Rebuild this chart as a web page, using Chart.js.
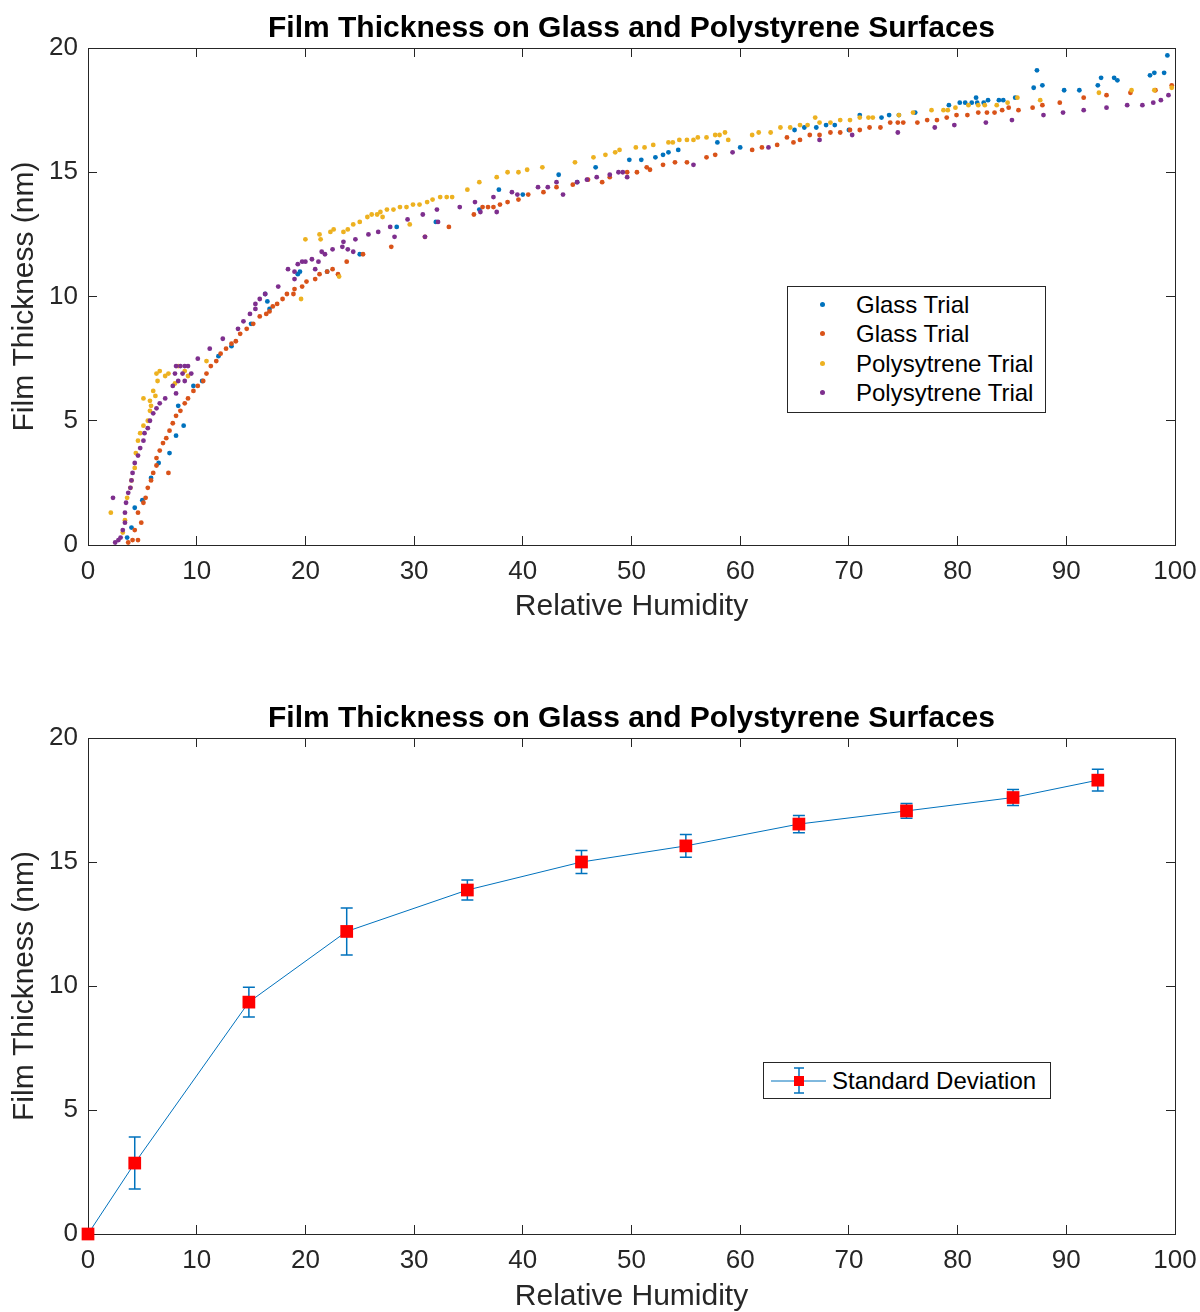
<!DOCTYPE html>
<html>
<head>
<meta charset="utf-8">
<title>Film Thickness on Glass and Polystyrene Surfaces</title>
<script src="https://cdn.jsdelivr.net/npm/chart.js@4.4.0/dist/chart.umd.min.js"></script>
<style>
  html, body { margin: 0; padding: 0; background: #fff; }
  body {
    position: relative; width: 1200px; height: 1312px; overflow: hidden;
    font-family: "Liberation Sans", Arial, Helvetica, sans-serif;
  }
  canvas { position: absolute; left: 0; }
  #topChart { top: 0; }
  #bottomChart { top: 650px; }
  .legend {
    position: absolute; background: #fff; border: 1px solid #262626;
    box-sizing: border-box; font-size: 24px; color: #000;
  }
  .legend .row { position: absolute; left: 0; right: 0; height: 30px; line-height: 30px; }
  .legend .dot { position: absolute; left: 32px; top: 12px; width: 5px; height: 5px; border-radius: 50%; }
  .legend .label { position: absolute; left: 68px; top: 0; white-space: nowrap; }
  .legend svg { position: absolute; left: 0; top: 0; }
</style>
</head>
<body>
<canvas id="topChart" width="1200" height="650"></canvas>
<canvas id="bottomChart" width="1200" height="662"></canvas>
<div class="legend" id="topLegend" style="left:787px; top:286px; width:259px; height:127px;"></div>
<div class="legend" id="bottomLegend" style="left:763px; top:1062px; width:288px; height:37px;"></div>

<script>
// ---- data ----
const chartTitle = 'Film Thickness on Glass and Polystyrene Surfaces';
const xLabel = 'Relative Humidity';
const yLabel = 'Film Thickness (nm)';
const xTicks = { min: 0, max: 100, step: 10 };
const yTicks = { min: 0, max: 20, step: 5 };

const seriesNames = ['Glass Trial', 'Glass Trial', 'Polysytrene Trial', 'Polysytrene Trial'];
const seriesColors = ['#0072BD', '#D95319', '#EDB120', '#7E2F8E'];

// [relative humidity, thickness]
const glassTrial1 = [
  [3.6,0.3],[4.0,0.7],[4.3,1.5],[5.0,1.8],[5.8,2.7],[6.5,3.3],[7.5,3.7],[8.1,4.4],[8.8,4.8],[8.3,5.6],
  [9.7,6.4],[10.5,6.6],[12.0,7.6],[13.2,8.0],[15.0,8.9],[16.3,10.1],[16.5,9.8],[16.7,9.5],[19.3,10.9],
  [19.5,11.0],[22.0,11.0],[25.0,11.7],[28.4,12.8],[32.0,13.0],[36.0,13.5],[37.8,14.3],[40.0,14.1],
  [43.3,14.9],[45.0,14.6],[46.7,15.2],[49.8,15.5],[50.9,15.5],[52.2,15.6],[52.9,15.7],[53.4,15.8],
  [54.3,15.9],[57.9,16.2],[60.0,16.0],[65.0,16.7],[65.9,16.8],[67.0,16.8],[67.9,16.9],[68.7,16.9],
  [70.0,16.7],[71.0,17.3],[73.0,17.2],[73.7,17.3],[74.6,17.3],[76.1,17.4],[79.2,17.7],[80.2,17.8],
  [80.7,17.8],[81.3,17.8],[81.7,18.0],[81.8,17.8],[82.4,17.8],[82.8,17.9],[83.8,17.9],[84.2,17.9],
  [85.3,18.0],[87.0,18.4],[87.3,19.1],[87.8,18.5],[89.8,18.3],[91.2,18.3],[92.9,18.5],[93.2,18.8],
  [94.4,18.8],[94.7,18.7],[97.7,18.9],[98.1,19.0],[99.0,19.0],[99.3,19.7]
];
const glassTrial2 = [
  [3.7,0.1],[4.1,0.2],[4.6,0.2],[4.3,0.6],[4.6,1.3],[4.9,0.9],[5.1,1.7],[5.3,1.9],[5.5,2.3],[5.8,2.6],
  [6.0,2.9],[6.3,3.2],[6.3,3.5],[6.6,3.8],[6.9,4.1],[7.2,4.3],[7.5,4.6],[7.4,2.9],[7.8,4.9],[8.1,5.2],
  [8.5,5.4],[8.9,5.7],[9.2,5.9],[9.7,6.2],[10.1,6.4],[10.6,6.6],[10.9,6.9],[11.3,7.2],[11.8,7.4],
  [12.2,7.7],[12.7,7.9],[13.2,8.1],[13.6,8.2],[14.0,8.5],[14.6,8.7],[15.2,8.9],[15.8,9.2],[16.4,9.3],
  [16.7,9.4],[17.0,9.6],[17.4,9.7],[17.9,9.9],[18.3,10.1],[18.9,10.1],[19.0,10.3],[19.7,10.4],
  [20.1,10.6],[20.9,10.7],[21.3,10.9],[22.0,11.0],[22.5,11.1],[23.0,10.9],[23.8,11.4],[25.3,11.7],
  [27.9,12.0],[31.0,12.4],[33.2,12.8],[35.5,13.3],[36.3,13.6],[36.8,13.6],[37.3,13.6],[37.9,13.7],
  [38.6,13.8],[39.6,13.9],[40.5,14.1],[41.9,14.2],[43.1,14.4],[44.6,14.5],[46.0,14.7],[47.3,14.6],
  [48.0,14.8],[49.6,15.0],[50.5,15.0],[51.4,15.2],[51.7,15.1],[52.9,15.3],[54.0,15.4],[55.1,15.4],
  [56.9,15.6],[57.7,15.7],[61.1,15.9],[62.0,16.0],[63.4,16.1],[64.3,16.4],[64.9,16.2],[65.5,16.3],
  [66.4,16.5],[67.3,16.5],[68.3,16.6],[69.2,16.6],[70.1,16.7],[71.0,16.7],[71.9,16.8],[72.9,16.8],
  [73.8,17.0],[74.5,17.0],[75.0,17.0],[76.3,17.0],[77.2,17.1],[78.1,17.1],[79.0,17.2],[79.9,17.3],
  [80.9,17.3],[81.9,17.4],[82.7,17.4],[83.4,17.4],[84.1,17.5],[84.7,17.6],[85.6,17.5],[86.9,17.6],
  [87.8,17.7],[89.4,17.8],[91.6,18.0],[93.7,18.1],[95.9,18.2],[98.2,18.3],[99.7,18.5]
];
const polyTrial1 = [
  [2.1,1.3],[3.2,0.5],[3.4,1.0],[3.6,1.9],[3.9,2.3],[4.0,2.6],[4.3,3.1],[4.4,3.7],[4.6,4.2],[4.8,4.5],
  [5.1,4.8],[5.5,5.0],[5.7,5.4],[5.8,5.6],[5.1,5.9],[5.7,5.8],[6.2,6.0],[6.0,6.2],[6.4,6.6],[6.3,6.9],
  [6.6,7.0],[7.1,6.8],[7.4,6.9],[8.0,6.5],[8.3,7.2],[8.9,7.0],[9.2,6.8],[10.9,7.4],[19.6,9.9],
  [20.0,12.3],[21.3,12.5],[21.4,12.3],[22.3,12.6],[22.6,12.7],[23.1,10.8],[23.5,12.6],[23.9,12.7],
  [24.4,12.9],[25.0,13.0],[25.7,13.2],[26.1,13.3],[26.6,13.3],[26.9,13.4],[27.1,13.2],[27.5,13.5],
  [28.1,13.5],[28.7,13.6],[29.3,13.6],[29.6,12.9],[29.9,13.7],[30.5,13.7],[31.2,13.8],[31.7,13.9],
  [32.4,14.0],[33.0,14.0],[33.5,14.0],[34.9,14.3],[36.0,14.6],[37.6,14.8],[38.6,15.0],[39.6,15.0],
  [40.4,15.1],[41.8,15.2],[44.8,15.4],[46.5,15.6],[47.6,15.7],[48.5,15.8],[48.9,15.9],[50.4,16.0],
  [51.2,16.0],[52.0,16.1],[53.4,16.2],[53.8,16.2],[54.4,16.3],[55.1,16.3],[55.7,16.3],[56.1,16.4],
  [56.9,16.4],[57.7,16.5],[58.1,16.5],[58.6,16.6],[58.9,16.3],[61.1,16.5],[61.7,16.6],[62.8,16.6],
  [63.7,16.8],[64.6,16.8],[65.5,16.9],[66.2,16.9],[66.9,17.2],[67.3,17.0],[68.3,17.0],[69.2,17.1],
  [70.1,17.1],[71.0,17.2],[71.8,17.2],[72.2,17.2],[74.6,17.3],[75.9,17.4],[77.6,17.5],[78.7,17.5],
  [79.1,17.5],[79.8,17.6],[81.0,17.7],[81.9,17.7],[82.5,17.7],[83.6,17.7],[84.6,17.8],[85.5,18.0],
  [87.6,17.9],[93.0,18.2],[96.0,18.3],[98.1,18.3],[99.7,18.4]
];
const polyTrial2 = [
  [2.3,1.9],[2.5,0.1],[2.8,0.2],[3.0,0.3],[3.2,0.6],[3.4,0.9],[3.4,1.3],[3.5,1.7],[3.7,2.1],[3.9,2.3],
  [4.0,2.6],[4.1,2.9],[4.3,3.3],[4.6,3.6],[4.8,3.9],[5.1,4.2],[5.2,4.5],[5.5,4.7],[5.7,5.0],[6.0,5.3],
  [6.3,5.5],[6.6,5.7],[7.1,5.9],[7.8,6.4],[8.1,6.1],[8.3,6.6],[8.0,6.9],[8.1,7.2],[8.5,7.2],[8.9,7.2],
  [9.2,7.2],[8.7,6.9],[8.9,6.6],[9.5,6.9],[10.1,7.5],[11.2,7.9],[12.4,8.3],[13.8,8.7],[14.3,9.0],
  [14.9,9.3],[15.4,9.5],[15.4,9.7],[15.8,9.9],[16.3,10.1],[17.5,10.4],[18.4,11.1],[19.0,11.0],
  [19.0,10.7],[19.3,11.3],[19.7,11.4],[20.0,11.4],[20.6,11.5],[20.9,11.1],[21.2,11.4],[21.5,11.8],
  [21.8,11.7],[22.5,11.9],[23.4,12.0],[23.5,12.2],[23.9,11.9],[24.4,11.8],[24.6,12.3],[25.8,12.5],
  [26.7,12.6],[27.8,12.8],[28.2,12.4],[29.4,13.1],[30.8,13.3],[31.0,12.4],[32.1,13.5],[32.2,13.0],
  [34.2,13.6],[35.6,13.8],[36.1,13.4],[37.3,14.0],[37.6,13.4],[39.0,14.2],[39.5,14.1],[41.4,14.4],
  [42.3,14.4],[43.1,14.6],[43.7,14.1],[45.0,14.6],[45.9,14.7],[46.8,14.8],[48.0,14.9],[48.8,15.0],
  [49.2,15.0],[49.6,14.8],[55.7,15.3],[59.3,15.8],[62.6,16.0],[67.3,16.3],[70.3,16.5],[74.5,16.6],
  [77.9,16.8],[79.7,16.9],[82.6,17.0],[85.0,17.1],[87.9,17.3],[89.7,17.4],[91.6,17.5],[93.7,17.6],
  [95.6,17.7],[97.0,17.7],[98.0,17.8],[98.7,17.9],[99.4,18.1]
];

// averaged curve with standard deviation (bottom panel)
const avgHumidity = [0, 4.3, 14.8, 23.8, 34.9, 45.4, 55.0, 65.4, 75.3, 85.1, 92.9];
const avgThickness = [0, 2.86, 9.35, 12.2, 13.87, 15.0, 15.65, 16.53, 17.06, 17.6, 18.3];
const stdDev = [0, 1.05, 0.6, 0.95, 0.4, 0.46, 0.46, 0.35, 0.3, 0.32, 0.44];
const avgLabel = 'Standard Deviation';

// ---- styling ----
const axisColor = '#262626';
const fontFamily = '"Liberation Sans", Arial, Helvetica, sans-serif';
const plotLeft = 88;
const plotRight = 1175;

// title centred over the plot box instead of over the whole canvas
const centerTitle = {
  id: 'centerTitle',
  afterLayout(chart) {
    if (chart.titleBlock) {
      chart.titleBlock.left = chart.chartArea.left;
      chart.titleBlock.right = chart.chartArea.right;
    }
  }
};

// vertical error bars drawn under the line and markers
const errorBars = {
  id: 'errorBars',
  beforeDatasetsDraw(chart, args, opts) {
    if (!opts.values) return;
    const { ctx } = chart;
    const yScale = chart.scales.y;
    const points = chart.getDatasetMeta(0).data;
    const values = chart.data.datasets[0].data;
    ctx.save();
    ctx.strokeStyle = opts.color;
    ctx.lineWidth = opts.width;
    opts.values.forEach((err, i) => {
      if (!err) return;
      const px = points[i].x;
      const top = yScale.getPixelForValue(values[i].y + err);
      const bot = yScale.getPixelForValue(values[i].y - err);
      ctx.beginPath();
      ctx.moveTo(px, top); ctx.lineTo(px, bot);
      ctx.moveTo(px - opts.cap, top); ctx.lineTo(px + opts.cap, top);
      ctx.moveTo(px - opts.cap, bot); ctx.lineTo(px + opts.cap, bot);
      ctx.stroke();
    });
    ctx.restore();
  }
};

// keep tick labels from pushing the plot box around
function noLabelPadding(s) {
  s.paddingLeft = 0; s.paddingRight = 0; s.paddingTop = 0; s.paddingBottom = 0;
}

// MATLAB-like box: inward ticks on all four sides
function buildScales(xAxisHeight, xTitlePad) {
  const tickFont = { family: fontFamily, size: 26 };
  const titleFont = { family: fontFamily, size: 30, lineHeight: 1 };
  const grid = { drawOnChartArea: false, drawTicks: true, tickLength: -9, color: axisColor };
  const border = { display: true, color: axisColor, width: 1 };
  return {
    x: {
      type: 'linear', position: 'bottom', min: xTicks.min, max: xTicks.max,
      ticks: { stepSize: xTicks.step, padding: 20, color: axisColor, font: tickFont, autoSkip: false, maxRotation: 0 },
      grid, border,
      title: { display: true, text: xLabel, color: axisColor, font: titleFont, padding: { top: 0, bottom: xTitlePad } },
      afterFit: s => { s.height = xAxisHeight; noLabelPadding(s); }
    },
    y: {
      type: 'linear', position: 'left', min: yTicks.min, max: yTicks.max,
      ticks: { stepSize: yTicks.step, padding: 19, color: axisColor, font: tickFont },
      grid, border,
      title: { display: true, text: yLabel, color: axisColor, font: titleFont, padding: { top: 10, bottom: 0 } },
      afterFit: s => { s.width = plotLeft; noLabelPadding(s); }
    },
    x2: {
      type: 'linear', position: 'top', min: xTicks.min, max: xTicks.max,
      ticks: { stepSize: xTicks.step, display: false },
      grid, border,
      afterFit: s => { s.height = 0; noLabelPadding(s); }
    },
    y2: {
      type: 'linear', position: 'right', min: yTicks.min, max: yTicks.max,
      ticks: { stepSize: yTicks.step, display: false },
      grid, border,
      afterFit: s => { s.width = 0; noLabelPadding(s); }
    }
  };
}

function titleOptions(padTop) {
  return {
    display: true, text: chartTitle, color: '#000',
    font: { family: fontFamily, size: 30, weight: 'bold', lineHeight: 1.2 },
    padding: { top: padTop, bottom: 1 }
  };
}

document.addEventListener('DOMContentLoaded', () => {
  // ---- top panel: raw trials ----
  const trials = [glassTrial1, glassTrial2, polyTrial1, polyTrial2];
  new Chart(document.getElementById('topChart'), {
    type: 'scatter',
    data: {
      datasets: trials.map((pts, i) => ({
        label: seriesNames[i],
        data: pts.map(p => ({ x: p[0], y: p[1] })),
        backgroundColor: seriesColors[i],
        borderWidth: 0,
        pointRadius: 2.4,
        pointHoverRadius: 2.4,
        order: trials.length - i // later trials on top, as in MATLAB
      }))
    },
    options: {
      responsive: false,
      animation: false,
      devicePixelRatio: 1,
      layout: { padding: { left: 0, right: 1200 - plotRight, top: 0, bottom: 0 } },
      scales: buildScales(650 - 545, 28),
      plugins: {
        title: titleOptions(11),
        legend: { display: false },
        tooltip: { enabled: false }
      }
    },
    plugins: [centerTitle]
  });

  // ---- bottom panel: mean with standard deviation ----
  new Chart(document.getElementById('bottomChart'), {
    type: 'line',
    data: {
      datasets: [{
        label: avgLabel,
        data: avgHumidity.map((x, i) => ({ x, y: avgThickness[i] })),
        borderColor: '#0072BD',
        borderWidth: 1,
        tension: 0,
        pointStyle: 'rect',
        pointRadius: 9,
        pointHoverRadius: 9,
        pointBackgroundColor: '#FF0000',
        pointBorderColor: '#FF0000',
        pointBorderWidth: 0,
        clip: false
      }]
    },
    options: {
      responsive: false,
      animation: false,
      devicePixelRatio: 1,
      layout: { padding: { left: 0, right: 1200 - plotRight, top: 0, bottom: 0 } },
      scales: buildScales(662 - 584, 0),
      plugins: {
        title: titleOptions(51),
        legend: { display: false },
        tooltip: { enabled: false },
        errorBars: { values: stdDev, color: '#0072BD', width: 1.5, cap: 6 }
      }
    },
    plugins: [centerTitle, errorBars]
  });

  // ---- legends ----
  const topLegend = document.getElementById('topLegend');
  seriesNames.forEach((name, i) => {
    const row = document.createElement('div');
    row.className = 'row';
    row.style.top = (3 + i * 29.3) + 'px';
    row.innerHTML = `<span class="dot" style="background:${seriesColors[i]}"></span><span class="label">${name}</span>`;
    topLegend.appendChild(row);
  });

  const bottomLegend = document.getElementById('bottomLegend');
  bottomLegend.innerHTML = `
    <svg width="66" height="35">
      <line x1="7" y1="18" x2="62" y2="18" stroke="#0072BD" stroke-width="1"/>
      <line x1="35" y1="5" x2="35" y2="30" stroke="#0072BD" stroke-width="1.5"/>
      <line x1="30" y1="5" x2="40" y2="5" stroke="#0072BD" stroke-width="1.5"/>
      <line x1="30" y1="30" x2="40" y2="30" stroke="#0072BD" stroke-width="1.5"/>
      <rect x="30" y="13" width="10" height="10" fill="#FF0000"/>
    </svg>
    <div class="row" style="top:3px"><span class="label" style="left:68px">${avgLabel}</span></div>`;
});
</script>
</body>
</html>
